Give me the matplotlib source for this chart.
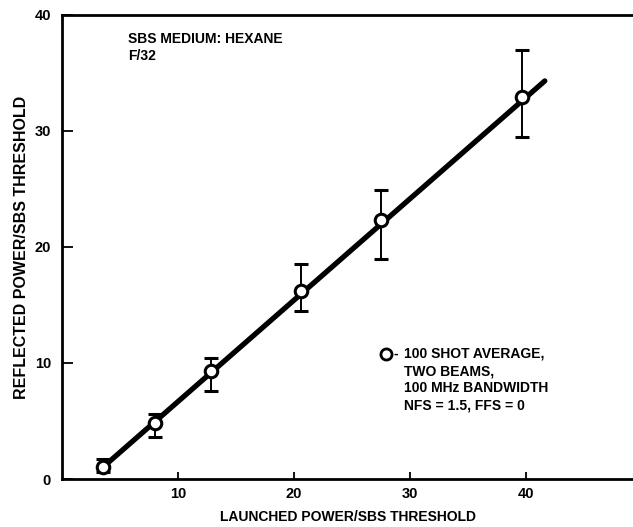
import numpy as np
import matplotlib
matplotlib.use('Agg')
import matplotlib.pyplot as plt

plt.rcParams['font.family'] = ['Liberation Sans Narrow', 'Liberation Sans', 'DejaVu Sans']
plt.rcParams['font.weight'] = 'bold'

# measured points (launched / reflected, in units of SBS threshold)
launched  = [3.5, 8.0, 12.8, 20.6, 27.5, 39.6]
reflected = [1.0, 4.8, 9.3, 16.2, 22.3, 32.9]
err_hi    = [1.7, 5.6, 10.4, 18.5, 24.9, 37.0]
err_lo    = [0.6, 3.6, 7.6, 14.5, 19.0, 29.5]

# straight-line fit drawn through the data
fit_x = [3.5, 41.6]
fit_y = [1.0, 34.3]

xticks = [10, 20, 30, 40]
yticks = [0, 10, 20, 30, 40]

FS = 10
fig = plt.figure(figsize=(6.33, 5.27), dpi=100)
ax = fig.add_axes([0.098, 0.091, 0.902, 0.881])

ax.plot(fit_x, fit_y, color='black', linewidth=3.8, solid_capstyle='round', zorder=2)

yerr = [np.array(reflected) - np.array(err_lo), np.array(err_hi) - np.array(reflected)]
ax.errorbar(launched, reflected, yerr=yerr, fmt='none', ecolor='black',
            elinewidth=1.4, capsize=5, capthick=2.2, zorder=3)
ax.plot(launched, reflected, 'o', markersize=9, markerfacecolor='white',
        markeredgecolor='black', markeredgewidth=2.2, zorder=4)

ax.set_xlim(0, 49.2)
ax.set_ylim(0, 40)
ax.set_xticks(xticks)
ax.set_yticks(yticks)
ax.tick_params(axis='x', direction='in', length=5, width=1.3, labelsize=10.5, pad=6)
ax.tick_params(axis='y', direction='in', length=8, width=1.3, labelsize=10.5, pad=8)
for lab in ax.get_xticklabels() + ax.get_yticklabels():
    lab.set_fontweight('bold')

for s in ['left', 'bottom', 'top']:
    ax.spines[s].set_linewidth(2.0)
ax.spines['right'].set_visible(False)

ax.set_xlabel('LAUNCHED POWER/SBS THRESHOLD', fontsize=FS, fontweight='bold', labelpad=6)
ax.set_ylabel('REFLECTED POWER/SBS THRESHOLD', fontsize=11.5, fontweight='bold', labelpad=4)

ax.text(5.7, 38.5, 'SBS MEDIUM: HEXANE\nF/32', fontsize=FS, fontweight='bold',
        va='top', ha='left', linespacing=1.3)

# legend-style annotation
ax.plot([27.9], [10.8], 'o', markersize=8, markerfacecolor='white',
        markeredgecolor='black', markeredgewidth=2.0, clip_on=False)
ax.text(28.6, 10.8, '-', fontsize=FS, fontweight='bold', va='center', ha='left')
ax.text(29.5, 11.4, '100 SHOT AVERAGE,\nTWO BEAMS,\n100 MHz BANDWIDTH\nNFS = 1.5, FFS = 0',
        fontsize=FS, fontweight='bold', va='top', ha='left', linespacing=1.3)

plt.savefig('out.png', dpi=100)
